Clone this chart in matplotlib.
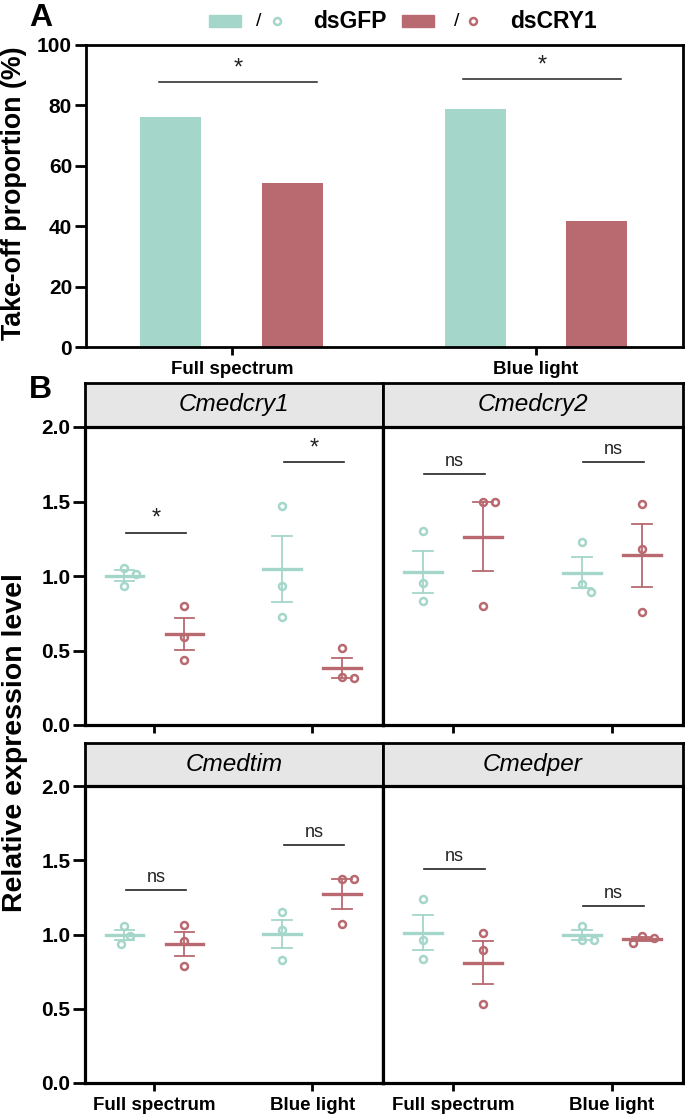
import numpy as np
import matplotlib
matplotlib.use('Agg')
import matplotlib.pyplot as plt
from matplotlib.patches import Rectangle
from matplotlib.lines import Line2D

plt.rcParams['font.family'] = ['Liberation Sans', 'DejaVu Sans']

W, H, DPI = 685, 1119, 100
GREEN = '#a5d6ca'
RED = '#b86a70'
INK = '#222222'

# -------------------------------------------------------------------
# Data
# -------------------------------------------------------------------
conditions = ['Full spectrum', 'Blue light']

# Panel A: take-off proportion (%)
takeoff_gfp = [76.0, 78.8]
takeoff_cry1 = [54.4, 41.6]
takeoff_sig_y = [87.6, 88.7]
takeoff_sig = ['*', '*']

# Panel B: relative expression, 3 replicates per group
genes = ['Cmedcry1', 'Cmedcry2', 'Cmedtim', 'Cmedper']

cry1_gfp = [[1.056, 1.016, 0.935], [1.470, 0.935, 0.727]]
cry1_ds = [[0.800, 0.593, 0.436], [0.514, 0.320, 0.317]]
cry1_sig_y = [1.29, 1.765]
cry1_sig = ['*', '*']

cry2_gfp = [[1.302, 0.953, 0.832], [1.226, 0.946, 0.893]]
cry2_ds = [[1.494, 1.494, 0.799], [1.483, 1.179, 0.756]]
cry2_sig_y = [1.687, 1.767]
cry2_sig = ['ns', 'ns']

tim_gfp = [[1.056, 0.993, 0.937], [1.150, 1.031, 0.830]]
tim_ds = [[1.067, 0.955, 0.787], [1.374, 1.374, 1.072]]
tim_sig_y = [1.302, 1.604]
tim_sig = ['ns', 'ns']

per_gfp = [[1.237, 0.964, 0.837], [1.060, 0.964, 0.964]]
per_ds = [[1.011, 0.893, 0.530], [0.993, 0.975, 0.944]]
per_sig_y = [1.441, 1.195]
per_sig = ['ns', 'ns']

gene_gfp = [cry1_gfp, cry2_gfp, tim_gfp, per_gfp]
gene_ds = [cry1_ds, cry2_ds, tim_ds, per_ds]
gene_sig_y = [cry1_sig_y, cry2_sig_y, tim_sig_y, per_sig_y]
gene_sig = [cry1_sig, cry2_sig, tim_sig, per_sig]

# -------------------------------------------------------------------
# Helpers
# -------------------------------------------------------------------
fig = plt.figure(figsize=(W / DPI, H / DPI), dpi=DPI)
fig.patch.set_facecolor('white')


def px_axes(l, t, r, b):
    return fig.add_axes([l / W, 1 - b / H, (r - l) / W, (b - t) / H])


def fx(x):
    return x / W


def fy(y):
    return 1 - y / H


def swarm(ax, xc, vals, d_px=11.0, inc_px=3.0):
    """Spread overlapping points sideways, roughly like GraphPad."""
    tr = ax.transData
    unit = tr.transform((1, 0))[0] - tr.transform((0, 0))[0]
    xs = np.zeros(len(vals))
    placed = []
    for i in np.argsort(vals)[::-1]:
        k = 0
        while True:
            off = (k + 1) // 2 * inc_px * (1 if k % 2 else -1) if k else 0.0
            p = tr.transform((xc + off / unit, vals[i]))
            if all(np.hypot(*(p - q)) >= d_px for q in placed):
                break
            k += 1
        xs[i] = xc + off / unit
        placed.append(p)
    return xs


def dot_group(ax, xc, vals, color):
    vals = np.asarray(vals)
    m = vals.mean()
    sem = vals.std(ddof=1) / np.sqrt(len(vals))
    ax.plot(swarm(ax, xc, vals), vals, 'o', mfc='none', mec=color,
            ms=5.0, mew=1.8, zorder=4)
    ax.plot([xc - 0.12, xc + 0.12], [m, m], color=color, lw=2.4, zorder=3)
    ax.plot([xc, xc], [m - sem, m + sem], color=color, lw=1.3, zorder=3)
    for yy in (m - sem, m + sem):
        ax.plot([xc - 0.063, xc + 0.063], [yy, yy], color=color, lw=1.3, zorder=3)


# -------------------------------------------------------------------
# Panel A
# -------------------------------------------------------------------
axA = px_axes(86, 45, 683, 347)
x = np.arange(len(conditions))
axA.bar(x - 0.2, takeoff_gfp, 0.2, color=GREEN)
axA.bar(x + 0.2, takeoff_cry1, 0.2, color=RED)
axA.set_xlim(-0.479, 1.483)
axA.set_ylim(0, 100)
axA.set_yticks(range(0, 101, 20))
axA.set_xticks(x)
axA.set_xticklabels(conditions, fontsize=13.5, fontweight='bold')
for lab in axA.get_yticklabels():
    lab.set_fontsize(15)
    lab.set_fontweight('bold')
axA.tick_params(axis='y', direction='out', length=8, width=2, pad=2)
axA.tick_params(axis='x', direction='out', length=6, width=2, pad=4)
for sp in axA.spines.values():
    sp.set_linewidth(2)
for xi, yy, s in zip(x, takeoff_sig_y, takeoff_sig):
    axA.plot([xi - 0.24, xi + 0.28], [yy, yy], color=INK, lw=1.1)
    axA.annotate(s, (xi + 0.02, yy), xytext=(0, 10), textcoords='offset points',
                 ha='center', va='center', fontsize=17, color=INK)

fig.text(fx(14), fy(193), 'Take-off proportion (%)', rotation=90,
         ha='center', va='center', fontsize=19.3, fontweight='bold')
fig.text(fx(41), fy(18), 'A', ha='center', va='center', fontsize=23, fontweight='bold')

# Legend drawn by hand: [bar] / [circle]  label
for rx, sx, cx, tx, color, label in [(209, 259, 277, 313, GREEN, 'dsGFP'),
                                     (402, 457, 473, 510, RED, 'dsCRY1')]:
    fig.patches.append(Rectangle((fx(rx), fy(27)), 32 / W, 12 / H, color=color,
                                 transform=fig.transFigure, figure=fig))
    fig.text(fx(sx), fy(21), '/', ha='center', va='center', fontsize=14)
    fig.lines.append(Line2D([fx(cx)], [fy(21)], marker='o', mfc='none', mec=color,
                            ms=5.0, mew=1.8, transform=fig.transFigure, figure=fig))
    fig.text(fx(tx), fy(21), label, ha='left', va='center', fontsize=16.5,
             fontweight='bold')

# -------------------------------------------------------------------
# Panel B
# -------------------------------------------------------------------
rows = [(383, 427, 725), (743, 786, 1083)]
cols = [(85, 383), (383, 683)]

for i, gene in enumerate(genes):
    r, c = divmod(i, 2)
    st, top, bot = rows[r]
    left, right = cols[c]

    strip = px_axes(left, st, right, top)
    strip.set_facecolor('#e6e6e6')
    strip.set_xticks([])
    strip.set_yticks([])
    for sp in strip.spines.values():
        sp.set_linewidth(2)
    strip.text(0.5, 0.5, gene, transform=strip.transAxes, ha='center',
               va='center', fontsize=17.5, style='italic')

    ax = px_axes(left, top, right, bot)
    ax.set_xlim(-0.44, 1.447)
    ax.set_ylim(0, 2.0)
    ax.set_xticks(x)
    ax.set_yticks(np.arange(0, 2.01, 0.5))
    for sp in ax.spines.values():
        sp.set_linewidth(2.3)
    ax.tick_params(axis='x', direction='out', length=6, width=2, pad=4)
    ax.tick_params(axis='y', direction='out', length=8.5, width=2, pad=2)
    if r == 1:
        ax.set_xticklabels(conditions, fontsize=13.5, fontweight='bold')
    else:
        ax.set_xticklabels([])
    if c == 0:
        ax.set_yticklabels([f'{v:.1f}' for v in np.arange(0, 2.01, 0.5)],
                           fontsize=15, fontweight='bold')
    else:
        ax.tick_params(axis='y', length=0, labelleft=False)

    for j in range(len(conditions)):
        dot_group(ax, j - 0.19, gene_gfp[i][j], GREEN)
        dot_group(ax, j + 0.19, gene_ds[i][j], RED)
        yy = gene_sig_y[i][j]
        s = gene_sig[i][j]
        ax.plot([j - 0.18, j + 0.2], [yy, yy], color=INK, lw=1.2)
        ax.annotate(s, (j + 0.01, yy), xytext=(0, 10 if s == '*' else 9),
                    textcoords='offset points', ha='center', va='center',
                    fontsize=17 if s == '*' else 13, color=INK)

fig.text(fx(15), fy(743), 'Relative expression level', rotation=90,
         ha='center', va='center', fontsize=20.5, fontweight='bold')
fig.text(fx(40), fy(390), 'B', ha='center', va='center', fontsize=23, fontweight='bold')

fig.savefig('out.png', dpi=DPI)
